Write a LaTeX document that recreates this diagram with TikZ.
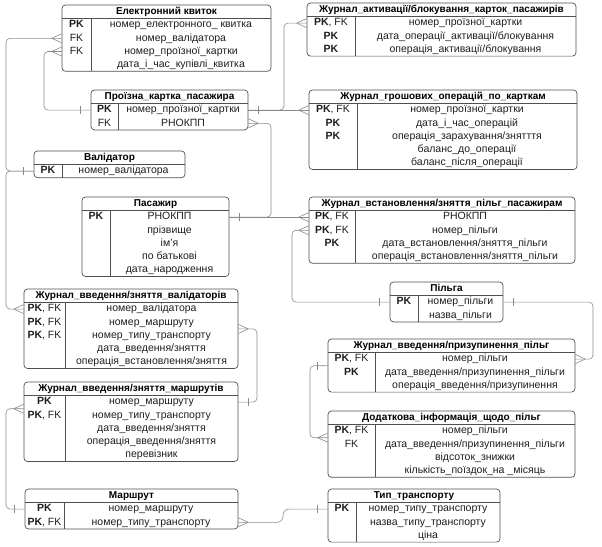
\documentclass[tikz,border=0pt]{standalone}
\usepackage{fontspec}
\setmainfont{Liberation Sans}
\usetikzlibrary{fit,calc}
\definecolor{boxc}{HTML}{505050}
\definecolor{linec}{HTML}{8A8A8A}
\definecolor{txt}{HTML}{1E1E1E}
\tikzset{
  tbl/.style={draw=boxc, line width=0.7pt, rounded corners=3.5pt, inner sep=0pt},
  sepl/.style={draw=boxc, line width=0.6pt},
  ttl/.style={font=\fontsize{10}{12}\selectfont\bfseries, text=black, inner sep=0pt, text height=7.5pt, text depth=2pt},
  fld/.style={font=\fontsize{10.5}{12}\selectfont, text=txt, inner sep=0pt, text height=7.5pt, text depth=2pt},
  keyt/.style={fld},
  rel/.style={draw=linec, line width=0.6pt, rounded corners=4pt},
  relc/.style={draw=linec, line width=0.6pt},
}
\newcommand\ertable[7]{%
  \pgfmathsetmacro\erS{#3+13.5}%
  \pgfmathsetmacro\erB{#3+13.5+#5*13.2}%
  \def\erL{#2}\def\erR{#4}\def\erK{#6}%
  \node[tbl, fit={(#2,#3) (#4,\erB)}] (#1) {};
  \node[ttl] (#1-t) at ({(#2+#4)/2},{#3+6.9}) {#7};
  \draw[sepl] (#2,\erS) -- (#4,\erS) (#6,\erS) -- (#6,\erB);
}
\newcommand\errow[4]{%
  \pgfmathsetmacro\ery{\erS+6.6+(#2-1)*13.2}%
  \pgfmathsetmacro\erkx{(\erL+\erK)/2}%
  \pgfmathsetmacro\erfx{(\erK+\erR)/2}%
  \node[keyt] (#1k) at (\erkx,\ery) {#3};
  \node[fld] (#1) at (\erfx,\ery) {#4};
}
\newcommand\crowL[1]{\draw[relc] (#1) ++(-10,0) -- ++(10,4.5) (#1) ++(-10,0) -- ++(10,-4.5);}
\newcommand\crowR[1]{\draw[relc] (#1) ++(10,0) -- ++(-10,4.5) (#1) ++(10,0) -- ++(-10,-4.5);}
\newcommand\oneL[1]{\draw[relc] (#1) ++(-10,-4) -- ++(0,8);}
\newcommand\oneR[1]{\draw[relc] (#1) ++(10,-4) -- ++(0,8);}
\newcommand\PKFK{\textbf{PK}, FK}
\newcommand\PKb{\textbf{PK}}
\begin{document}
\begin{tikzpicture}[x=1pt,y=-1pt]
\useasboundingbox (0,0) rectangle (602,546);

\ertable{ek}{62}{5}{271}{4}{91}{Електронний квиток}
\errow{ek1}{1}{\PKb}{номер\_електронного\_ квитка}
\errow{ek2}{2}{FK}{номер\_валідатора}
\errow{ek3}{3}{FK}{номер\_проїзної\_картки}
\errow{ek4}{4}{}{дата\_і\_час\_купівлі\_квитка}

\ertable{pk}{91}{90}{248}{2}{118}{Проїзна\_картка\_пасажира}
\errow{pk1}{1}{\PKb}{номер\_проїзної\_картки}
\errow{pk2}{2}{FK}{РНОКПП}

\ertable{ja}{307}{3}{576}{3}{355}{Журнал\_активації/блокування\_карток\_пасажирів}
\errow{ja1}{1}{\PKFK}{номер\_проїзної\_картки}
\errow{ja2}{2}{\PKb}{дата\_операції\_активації/блокування}
\errow{ja3}{3}{\PKb}{операція\_активації/блокування}

\ertable{jg}{309}{90}{577}{5}{357}{Журнал\_грошових\_операцій\_по\_карткам}
\errow{jg1}{1}{\PKFK}{номер\_проїзної\_картки}
\errow{jg2}{2}{\PKb}{дата\_і\_час\_операцій}
\errow{jg3}{3}{\PKb}{операція\_зарахування/знятття}
\errow{jg4}{4}{}{баланс\_до\_операції}
\errow{jg5}{5}{}{баланс\_після\_операції}

\ertable{va}{34}{151}{185}{1}{62}{Валідатор}
\errow{va1}{1}{\PKb}{номер\_валідатора}

\ertable{pa}{82}{197}{229}{5}{110}{Пасажир}
\errow{pa1}{1}{\PKb}{РНОКПП}
\errow{pa2}{2}{}{прізвище}
\errow{pa3}{3}{}{ім’я}
\errow{pa4}{4}{}{по батькові}
\errow{pa5}{5}{}{дата\_народження}

\ertable{jv}{309}{197}{575}{4}{355}{Журнал\_встановлення/зняття\_пільг\_пасажирам}
\errow{jv1}{1}{\PKFK}{РНОКПП}
\errow{jv2}{2}{\PKFK}{номер\_пільги}
\errow{jv3}{3}{\PKb}{дата\_встановлення/зняття\_пільги}
\errow{jv4}{4}{}{операція\_встановлення/зняття\_пільги}

\ertable{pl}{390}{282}{503}{2}{418}{Пільга}
\errow{pl1}{1}{\PKb}{номер\_пільги}
\errow{pl2}{2}{}{назва\_пільги}

\ertable{jval}{24}{289}{238}{5}{65}{Журнал\_введення/зняття\_валідаторів}
\errow{jval1}{1}{\PKFK}{номер\_валідатора}
\errow{jval2}{2}{\PKFK}{номер\_маршруту}
\errow{jval3}{3}{\PKFK}{номер\_типу\_транспорту}
\errow{jval4}{4}{}{дата\_введення/зняття}
\errow{jval5}{5}{}{операція\_встановлення/зняття}

\ertable{jm}{24}{382}{238}{5}{65}{Журнал\_введення/зняття\_маршрутів}
\errow{jm1}{1}{\PKb}{номер\_маршруту}
\errow{jm2}{2}{\PKFK}{номер\_типу\_транспорту}
\errow{jm3}{3}{}{дата\_введення/зняття}
\errow{jm4}{4}{}{операція\_введення/зняття}
\errow{jm5}{5}{}{перевізник}

\ertable{jp}{328}{339}{575}{3}{375}{Журнал\_введення/призупинення\_пільг}
\errow{jp1}{1}{\PKFK}{номер\_пільги}
\errow{jp2}{2}{\PKb}{дата\_введення/призупинення\_пільги}
\errow{jp3}{3}{}{операція\_введення/призупинення}

\ertable{dd}{328}{411}{575}{4}{375}{Додаткова\_інформація\_щодо\_пільг}
\errow{dd1}{1}{\PKFK}{номер\_пільги}
\errow{dd2}{2}{FK}{дата\_введення/призупинення\_пільги}
\errow{dd3}{3}{}{відсоток\_знижки}
\errow{dd4}{4}{}{кількість\_поїздок\_на \_місяць}

\ertable{ma}{25}{489}{238}{2}{64}{Маршрут}
\errow{ma1}{1}{\PKb}{номер\_маршруту}
\errow{ma2}{2}{\PKFK}{номер\_типу\_транспорту}

\ertable{tt}{328}{489}{500}{3}{356}{Тип\_транспорту}
\errow{tt1}{1}{\PKb}{номер\_типу\_транспорту}
\errow{tt2}{2}{}{назва\_типу\_транспорту}
\errow{tt3}{3}{}{ціна}

% bend columns
\coordinate (xa) at (6,0);
\coordinate (xb) at (44,0);
\coordinate (xc) at (284,0);
\coordinate (xd) at (271,0);
\coordinate (xe) at (292,0);
\coordinate (xf) at (593,0);
\coordinate (xg) at (310,0);
\coordinate (xh) at (257,0);
\coordinate (xj) at (283,0);
\coordinate (jpm) at ($(jp1)!0.5!(jp2)$);
\coordinate (ddm) at ($(dd1)!0.5!(dd2)$);
\coordinate (jvm) at ($(jval2)!0.5!(jval3)$);
\coordinate (jmm) at ($(jm1)!0.5!(jm2)$);

% C1 / C2 validator
\draw[rel] (ek.west|-ek2) -- (xa|-ek2) -- (xa|-va1) -- (va.west|-va1);
\draw[rel] (va.west|-va1) -- (xa|-va1) -- (xa|-jval1) -- (jval.west|-jval1);
\crowL{ek.west|-ek2}
\oneL{va.west|-va1}
\crowL{jval.west|-jval1}
% C3
\draw[rel] (ek.west|-ek3) -- (xb|-ek3) -- (xb|-pk1) -- (pk.west|-pk1);
\crowL{ek.west|-ek3}
\oneL{pk.west|-pk1}
% C4, C5
\draw[rel] (pk.east|-pk1) -- (xc|-pk1) -- (xc|-ja1) -- (ja.west|-ja1);
\draw[rel] (pk.east|-pk1) -- (jg.west|-jg1);
\oneR{pk.east|-pk1}
\crowL{ja.west|-ja1}
\crowL{jg.west|-jg1}
% C6, C7
\draw[rel] (pa.east|-pa1) -- (xd|-pa1) -- (xd|-pk2) -- (pk.east|-pk2);
\draw[rel] (pa.east|-pa1) -- (jv.west|-jv1);
\oneR{pa.east|-pa1}
\crowR{pk.east|-pk2}
\crowL{jv.west|-jv1}
% C8
\draw[rel] (pl.west|-pl1) -- (xe|-pl1) -- (xe|-jv2) -- (jv.west|-jv2);
\oneL{pl.west|-pl1}
\crowL{jv.west|-jv2}
% C9
\draw[rel] (pl.east|-pl1) -- (xf|-pl1) -- (xf|-jp1) -- (jp.east|-jp1);
\oneR{pl.east|-pl1}
\crowR{jp.east|-jp1}
% C10
\draw[rel] (jp.west|-jpm) -- (xg|-jpm) -- (xg|-ddm) -- (dd.west|-ddm);
\oneL{jp.west|-jpm}
\crowL{dd.west|-ddm}
% C11
\draw[rel] (jval.east|-jvm) -- (xh|-jvm) -- (xh|-jm1) -- (jm.east|-jm1);
\crowR{jval.east|-jvm}
\oneR{jm.east|-jm1}
% C12
\draw[rel] (jm.west|-jmm) -- (xa|-jmm) -- (xa|-ma1) -- (ma.west|-ma1);
\crowL{jm.west|-jmm}
\oneL{ma.west|-ma1}
% C13
\draw[rel, rounded corners=6pt] (ma.east|-ma2) -- (xj|-ma2) -- (xj|-tt1) -- (tt.west|-tt1);
\crowR{ma.east|-ma2}
\oneL{tt.west|-tt1}
\end{tikzpicture}
\end{document}
